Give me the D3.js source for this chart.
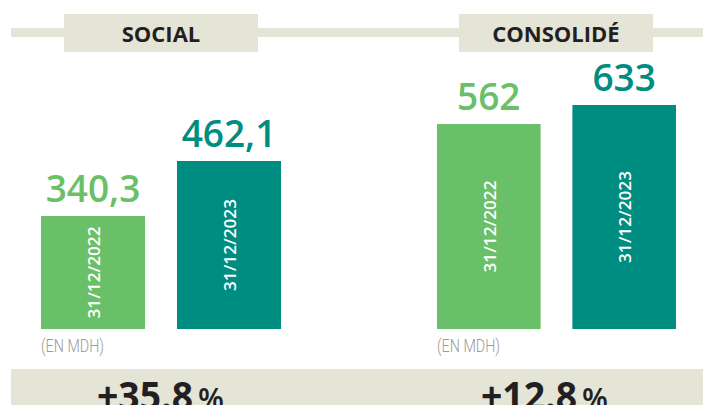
<!DOCTYPE html>
<html lang="fr">
  <head>
    <meta charset="UTF-8" />
    <title>Social / Consolidé</title>
    <script src="https://d3js.org/d3.v7.min.js"></script>
    <style>
      * {
        margin: 0;
        padding: 0;
      }
      body {
        background: #fff;
      }
    </style>
  </head>
  <body>
    <div id="chart"></div>
    <script>
      // data
      const panels = ["SOCIAL", "CONSOLIDÉ"];
      const dates = ["31/12/2022", "31/12/2023"];
      const valueLabels = [
        ["340,3", "462,1"],
        ["562", "633"],
      ];
      const values = [
        [340.3, 462.1],
        [562, 633],
      ];
      const changes = ["+35.8", "+12.8"];
      const unit = "(EN MDH)";

      const width = 703;
      const height = 405;
      const beige = "#e4e4d7";
      const dark = "#231f20";
      const colors = ["#6abf69", "#008d81"];

      const svg = d3
        .select("#chart")
        .append("svg")
        .attr("width", width)
        .attr("height", height);

      // header band + bottom band
      svg.append("rect").attr("x", 11).attr("y", 28).attr("width", width - 11).attr("height", 9).attr("fill", beige);
      svg.append("rect").attr("x", 11).attr("y", 369).attr("width", width - 11).attr("height", 40).attr("fill", beige);

      const panelX = [
        [41, 281],
        [437, 676],
      ];
      const boxX = [64, 459];
      const changeX = [97, 481];
      const baseY = 329;
      // each panel has its own (non zero based) vertical scale
      const yDomains = [
        [90, 462.1],
        [-204, 633],
      ];
      const yTops = [161, 105];

      panels.forEach((name, p) => {
        const g = svg.append("g");

        // title box
        g.append("rect")
          .attr("x", boxX[p])
          .attr("y", 14)
          .attr("width", 194)
          .attr("height", 38)
          .attr("fill", beige);
        g.append("text")
          .attr("x", boxX[p] + 97)
          .attr("y", 42)
          .attr("text-anchor", "middle")
          .attr("font-family", "Open Sans, sans-serif")
          .attr("font-weight", 700)
          .attr("font-size", 22)
          .attr("fill", dark)
          .text(name);

        const x = d3.scaleBand().domain(dates).range(panelX[p]).paddingInner(0.235).paddingOuter(0);
        const y = d3.scaleLinear().domain(yDomains[p]).range([baseY, yTops[p]]);

        const bars = g
          .selectAll("g.bar")
          .data(values[p])
          .join("g")
          .attr("class", "bar");

        bars
          .append("rect")
          .attr("x", (d, i) => x(dates[i]))
          .attr("y", (d) => y(d))
          .attr("width", x.bandwidth())
          .attr("height", (d) => baseY - y(d))
          .attr("fill", (d, i) => colors[i]);

        bars
          .append("text")
          .attr("x", (d, i) => x(dates[i]) + x.bandwidth() / 2)
          .attr("y", (d) => y(d) - 14)
          .attr("text-anchor", "middle")
          .attr("font-family", "Open Sans, sans-serif")
          .attr("font-weight", 600)
          .attr("font-size", 37)
          .attr("fill", (d, i) => colors[i])
          .text((d, i) => valueLabels[p][i]);

        bars
          .append("text")
          .attr("transform", (d, i) => {
            const cx = x(dates[i]) + x.bandwidth() / 2;
            const cy = (y(d) + baseY) / 2;
            return `translate(${cx + 7},${cy}) rotate(-90)`;
          })
          .attr("text-anchor", "middle")
          .attr("font-family", "Open Sans, sans-serif")
          .attr("font-weight", 600)
          .attr("font-size", 17)
          .attr("textLength", 92)
          .attr("lengthAdjust", "spacingAndGlyphs")
          .attr("fill", "#fff")
          .text((d, i) => dates[i]);

        g.append("text")
          .attr("x", panelX[p][0])
          .attr("y", 352)
          .attr("font-family", "Roboto, sans-serif")
          .attr("font-weight", 300)
          .attr("font-size", 19)
          .attr("textLength", 63)
          .attr("lengthAdjust", "spacingAndGlyphs")
          .attr("fill", "#9a9a9a")
          .text(unit);

        // evolution
        const t = g
          .append("text")
          .attr("x", changeX[p])
          .attr("y", 410)
          .attr("font-family", "Open Sans, sans-serif")
          .attr("fill", dark);
        t.append("tspan")
          .attr("font-weight", 700)
          .attr("font-size", 40)
          .attr("textLength", 96)
          .attr("lengthAdjust", "spacingAndGlyphs")
          .text(changes[p]);
        t.append("tspan").attr("dx", 5).attr("font-weight", 600).attr("font-size", 30).text("%");
      });
    </script>
  </body>
</html>
